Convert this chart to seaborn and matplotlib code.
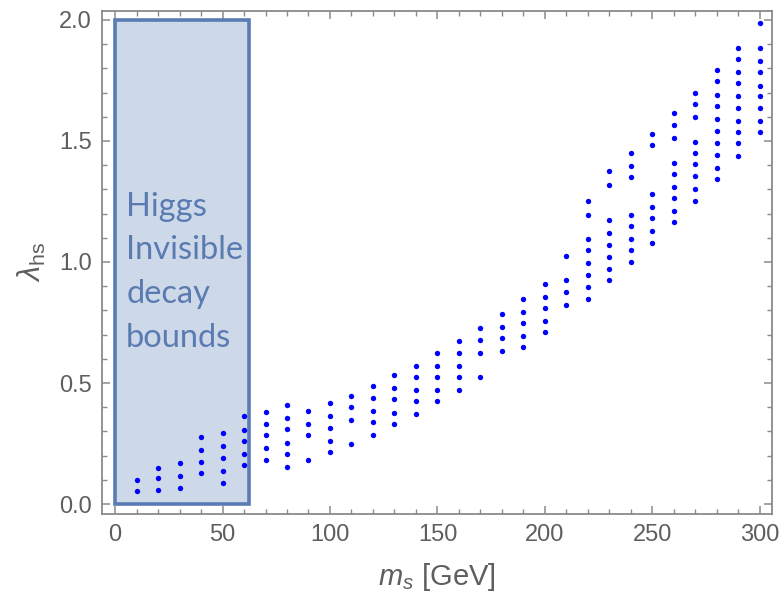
import matplotlib
matplotlib.use("Agg")
import matplotlib.pyplot as plt
from matplotlib.patches import Rectangle
from matplotlib.ticker import MultipleLocator
import pandas as pd
import seaborn as sns

# Scalar singlet mass grid [GeV]
m_s = [10, 20, 30, 40, 50, 60, 70, 80, 90, 100,
       110, 120, 130, 140, 150, 160, 170, 180, 190, 200,
       210, 220, 230, 240, 250, 260, 270, 280, 290, 300]

# Allowed portal couplings at each mass
lambda_hs = [
    [0.098, 0.052],
    [0.151, 0.106, 0.058],
    [0.168, 0.114, 0.067],
    [0.276, 0.222, 0.175, 0.128],
    [0.293, 0.238, 0.190, 0.136, 0.089],
    [0.362, 0.308, 0.261, 0.207, 0.160],
    [0.379, 0.332, 0.285, 0.231, 0.183],
    [0.409, 0.355, 0.309, 0.253, 0.208, 0.153],
    [0.386, 0.332, 0.285, 0.184],
    [0.416, 0.362, 0.315, 0.262, 0.215],
    [0.447, 0.401, 0.347, 0.247],
    [0.486, 0.439, 0.386, 0.339, 0.285],
    [0.533, 0.478, 0.433, 0.377, 0.331],
    [0.571, 0.525, 0.471, 0.424, 0.371],
    [0.625, 0.571, 0.525, 0.471, 0.424],
    [0.672, 0.625, 0.571, 0.525, 0.471],
    [0.726, 0.679, 0.625, 0.525],
    [0.786, 0.732, 0.685, 0.631],
    [0.848, 0.794, 0.747, 0.693, 0.647],
    [0.910, 0.856, 0.809, 0.755, 0.709],
    [1.026, 0.926, 0.878, 0.824],
    [1.250, 1.196, 1.096, 1.049, 0.995, 0.948, 0.895, 0.848],
    [1.374, 1.320, 1.173, 1.119, 1.072, 1.019, 0.972, 0.925],
    [1.451, 1.398, 1.351, 1.196, 1.150, 1.096, 1.049, 1.002],
    [1.530, 1.483, 1.282, 1.229, 1.180, 1.126, 1.079],
    [1.614, 1.567, 1.512, 1.411, 1.365, 1.311, 1.264, 1.212, 1.164],
    [1.700, 1.652, 1.598, 1.496, 1.450, 1.405, 1.356, 1.303, 1.251],
    [1.793, 1.746, 1.691, 1.644, 1.590, 1.543, 1.490, 1.443, 1.389, 1.344],
    [1.885, 1.838, 1.784, 1.739, 1.684, 1.637, 1.584, 1.536, 1.490, 1.437],
    [1.986, 1.885, 1.830, 1.784, 1.729, 1.684, 1.637, 1.584, 1.536],
]

# Higgs invisible-decay excluded region: m_s < m_h / 2
m_h_half = 62.5
lambda_max = 2.0
box_label = "Higgs\nInvisible\ndecay\nbounds"

df = pd.DataFrame(
    [(m, lam) for m, col in zip(m_s, lambda_hs) for lam in col],
    columns=["m_s", "lambda_hs"],
)

sns.set_theme(style="ticks")
plt.rcParams["mathtext.fontset"] = "custom"
plt.rcParams["mathtext.rm"] = "Liberation Sans"
plt.rcParams["mathtext.it"] = "Liberation Sans:italic"
plt.rcParams["font.family"] = ["Liberation Sans", "DejaVu Sans"]

fig = plt.figure(figsize=(7.84, 5.99), dpi=100)
ax = fig.add_axes([0.1297, 0.1419, 0.855, 0.8402])

axis_grey = "#8a8a8a"
label_grey = "#5e5e5e"

ax.add_patch(Rectangle((0, 0), m_h_half, lambda_max,
                       facecolor="#cdd8e8", edgecolor="#5b7bb4",
                       linewidth=2.6, zorder=1))
ax.text(5.2, 1.29, box_label, color="#5a7bb2", fontsize=23.5,
        family=["Lato", "DejaVu Sans"], ha="left", va="top",
        linespacing=1.57, zorder=2)

sns.scatterplot(data=df, x="m_s", y="lambda_hs", ax=ax, color="#0000ff",
                s=15, linewidth=0, zorder=3, legend=False)

ax.set_xlim(-6.2, 305.6)
ax.set_ylim(-0.041, 2.038)
ax.xaxis.set_major_locator(MultipleLocator(50))
ax.xaxis.set_minor_locator(MultipleLocator(10))
ax.yaxis.set_major_locator(MultipleLocator(0.5))
ax.yaxis.set_minor_locator(MultipleLocator(0.1))
ax.yaxis.set_major_formatter(matplotlib.ticker.FormatStrFormatter("%.1f"))

ax.tick_params(which="both", direction="in", top=True, right=True,
               color=axis_grey, labelcolor=label_grey, labelsize=17)
ax.tick_params(which="major", length=6, width=1.1, pad=7)
ax.tick_params(which="minor", length=3.5, width=1.0)
for sp in ax.spines.values():
    sp.set_color(axis_grey)
    sp.set_linewidth(1.3)

ax.set_xlabel(r"$m_s$ [GeV]", fontsize=21, color=label_grey, labelpad=11)
ax.set_ylabel(r"$\lambda_{\rm hs}$", fontsize=22, color=label_grey, labelpad=8)

fig.savefig("out.png", dpi=100)
